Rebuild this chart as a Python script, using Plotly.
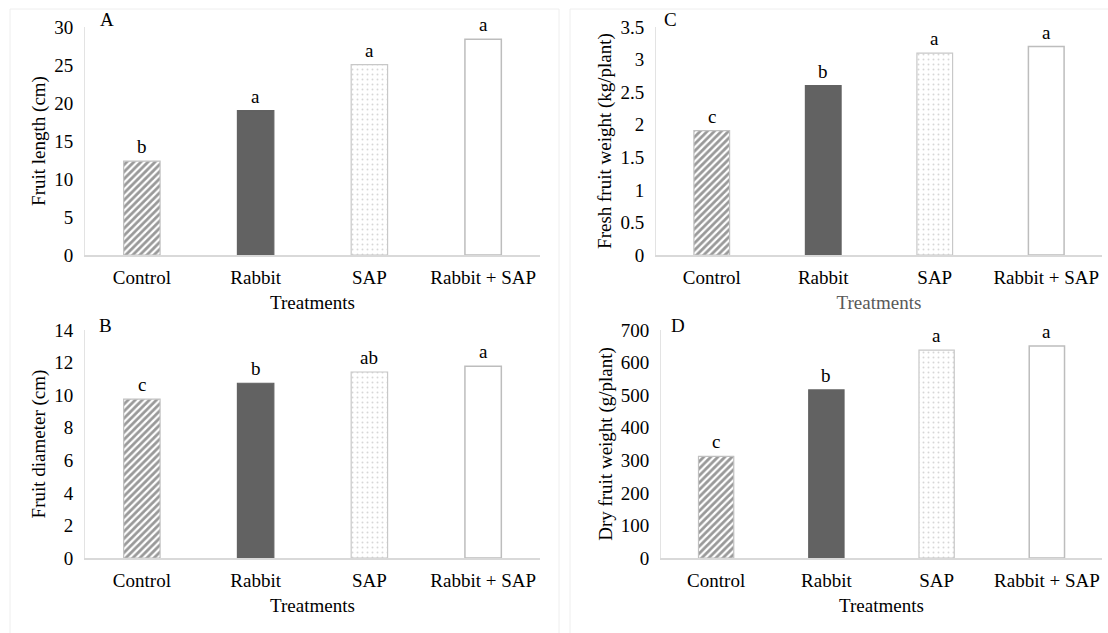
import plotly.graph_objects as go

categories = ["Control", "Rabbit", "SAP", "Rabbit + SAP"]
fruit_length = [12.35, 19.0, 25.05, 28.4]
fruit_diameter = [9.75, 10.73, 11.42, 11.77]
fresh_weight = [1.91, 2.60, 3.10, 3.20]
dry_weight = [312, 516, 638, 651]
letters_A = ["b", "a", "a", "a"]
letters_B = ["c", "b", "ab", "a"]
letters_C = ["c", "b", "a", "a"]
letters_D = ["c", "b", "a", "a"]

W, H = 1108, 633
FONT = "Liberation Serif"
FS = 19

def px_x(a, b):
    return [a / W, b / W]

def px_y(top, bottom):
    return [1 - bottom / H, 1 - top / H]

panels = [
    (fruit_length, letters_A, "Fruit length (cm)", [0, 30], 5, px_x(85, 540), px_y(27, 255), "A", (107, 20), "#000000"),
    (fresh_weight, letters_C, "Fresh fruit weight (kg/plant)", [0, 3.5], 0.5, px_x(656, 1102), px_y(27, 255), "C", (670, 20), "#595959"),
    (fruit_diameter, letters_B, "Fruit diameter (cm)", [0, 14], 2, px_x(85, 540), px_y(330, 558), "B", (105, 326), "#000000"),
    (dry_weight, letters_D, "Dry fruit weight (g/plant)", [0, 700], 100, px_x(661, 1102), px_y(330, 558), "D", (678, 325), "#000000"),
]

fig = go.Figure()

bar_styles = [
    dict(color="white", line=dict(color="#c0c0c0", width=1.2),
         pattern=dict(shape="/", fgcolor="#333333", bgcolor="white", size=5, solidity=0.55)),
    dict(color="#626262", line=dict(color="#626262", width=1.2)),
    dict(color="white", line=dict(color="#c8c8c8", width=1.2),
         pattern=dict(shape=".", fgcolor="#b0b0b0", bgcolor="white", size=5, solidity=0.12)),
    dict(color="white", line=dict(color="#bdbdbd", width=1.5)),
]

annotations = []
for i, (vals, lets, ytitle, rng, dtick, xd, yd, pl, ppos, xtc) in enumerate(panels):
    n = i + 1
    xa = "x" if n == 1 else f"x{n}"
    ya = "y" if n == 1 else f"y{n}"
    for j, cat in enumerate(categories):
        fig.add_trace(go.Bar(
            x=[cat], y=[vals[j]], xaxis=xa, yaxis=ya, width=0.32,
            marker=bar_styles[j], showlegend=False, hoverinfo="x+y",
        ))
        annotations.append(dict(
            x=cat, y=vals[j], xref=xa, yref=ya, text=lets[j], showarrow=False,
            yanchor="bottom", yshift=2, font=dict(family=FONT, size=FS, color="#000000"),
        ))
    annotations.append(dict(
        x=ppos[0] / W, y=1 - ppos[1] / H, xref="paper", yref="paper", text=pl,
        showarrow=False, xanchor="center", yanchor="middle",
        font=dict(family=FONT, size=FS, color="#000000"),
    ))
    xkey = "xaxis" if n == 1 else f"xaxis{n}"
    ykey = "yaxis" if n == 1 else f"yaxis{n}"
    fig.update_layout(**{
        xkey: dict(
            domain=xd, anchor=ya, type="category", categoryorder="array",
            categoryarray=categories, range=[-0.5, 3.5], automargin=False,
            showline=True, linecolor="#d9d9d9", linewidth=1.5, showgrid=False,
            ticks="", ticklabelstandoff=4, zeroline=False,
            tickfont=dict(family=FONT, size=FS, color="#000000"),
            title=dict(text="Treatments", standoff=9,
                       font=dict(family=FONT, size=FS, color=xtc)),
        ),
        ykey: dict(
            domain=yd, anchor=xa, range=rng, dtick=dtick, automargin=False,
            showline=True, linecolor="#e3e3e3", linewidth=1, showgrid=False,
            zeroline=False, ticks="", ticklabelstandoff=7,
            tickfont=dict(family=FONT, size=FS, color="#000000"),
            title=dict(text=ytitle, standoff=3,
                       font=dict(family=FONT, size=FS, color="#000000")),
        ),
    })

# faint panel frames (left and top edges, plus divider)
shapes = []
for (x0, y0, x1, y1) in [(10, 9, 10, 633), (10, 9, 559, 9), (559, 9, 559, 633),
                         (570, 9, 570, 633), (570, 9, 1108, 9)]:
    shapes.append(dict(type="line", xref="paper", yref="paper",
                       x0=x0 / W, x1=x1 / W, y0=1 - y0 / H, y1=1 - y1 / H,
                       line=dict(color="#eeeeee", width=1), layer="below"))

fig.update_layout(
    width=W, height=H, margin=dict(l=0, r=0, t=0, b=0, autoexpand=False),
    paper_bgcolor="white", plot_bgcolor="white",
    annotations=annotations, shapes=shapes, bargap=0.68,
    font=dict(family=FONT, size=FS, color="#000000"),
)

fig.write_html("out.html")
